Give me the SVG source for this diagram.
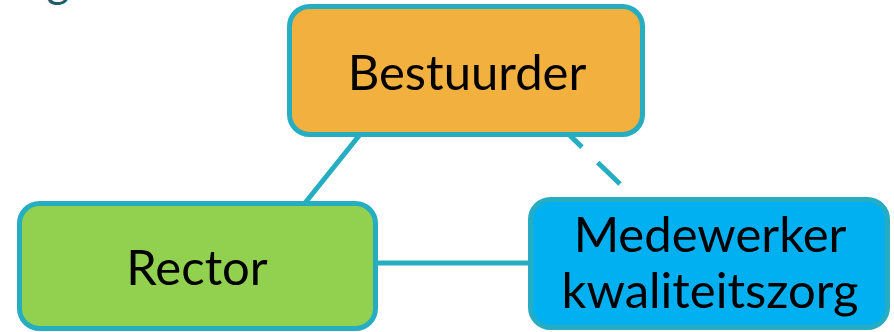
<svg xmlns="http://www.w3.org/2000/svg" width="894" height="332" viewBox="0 0 894 332">
<style>
.node{stroke:#26adc2;stroke-width:5}
.lbl{font-family:Lato,"Liberation Sans",sans-serif;font-size:49px;fill:#000;text-anchor:middle}
.con{stroke:#26adc2;stroke-width:5;fill:none}
</style>
<text x="58" y="-3" style="font-family:Lato,'Liberation Sans',sans-serif;font-size:44px;fill:#1d5c6a;text-anchor:middle">g</text>
<g id="connectors">
<line class="con" x1="362" y1="132" x2="305" y2="203"/>
<line class="con" x1="376" y1="263" x2="530" y2="263"/>
<line class="con" x1="620" y1="184" x2="555" y2="121" stroke-dasharray="31 22"/>
</g>
<g id="bestuurder">
<rect class="node" x="289.5" y="6.5" width="353" height="128" rx="20" fill="#f2b03e"/>
<text class="lbl" x="467" y="90">Bestuurder</text>
</g>
<g id="rector">
<rect class="node" x="19.5" y="203.5" width="356" height="125" rx="20" fill="#92d050"/>
<text class="lbl" x="197" y="285">Rector</text>
</g>
<g id="medewerker">
<rect class="node" x="530.5" y="199.5" width="357" height="128" rx="20" fill="#00b0f0"/>
<text class="lbl" x="710" y="252">Medewerker</text>
<text class="lbl" x="710" y="308">kwaliteitszorg</text>
</g>
</svg>
